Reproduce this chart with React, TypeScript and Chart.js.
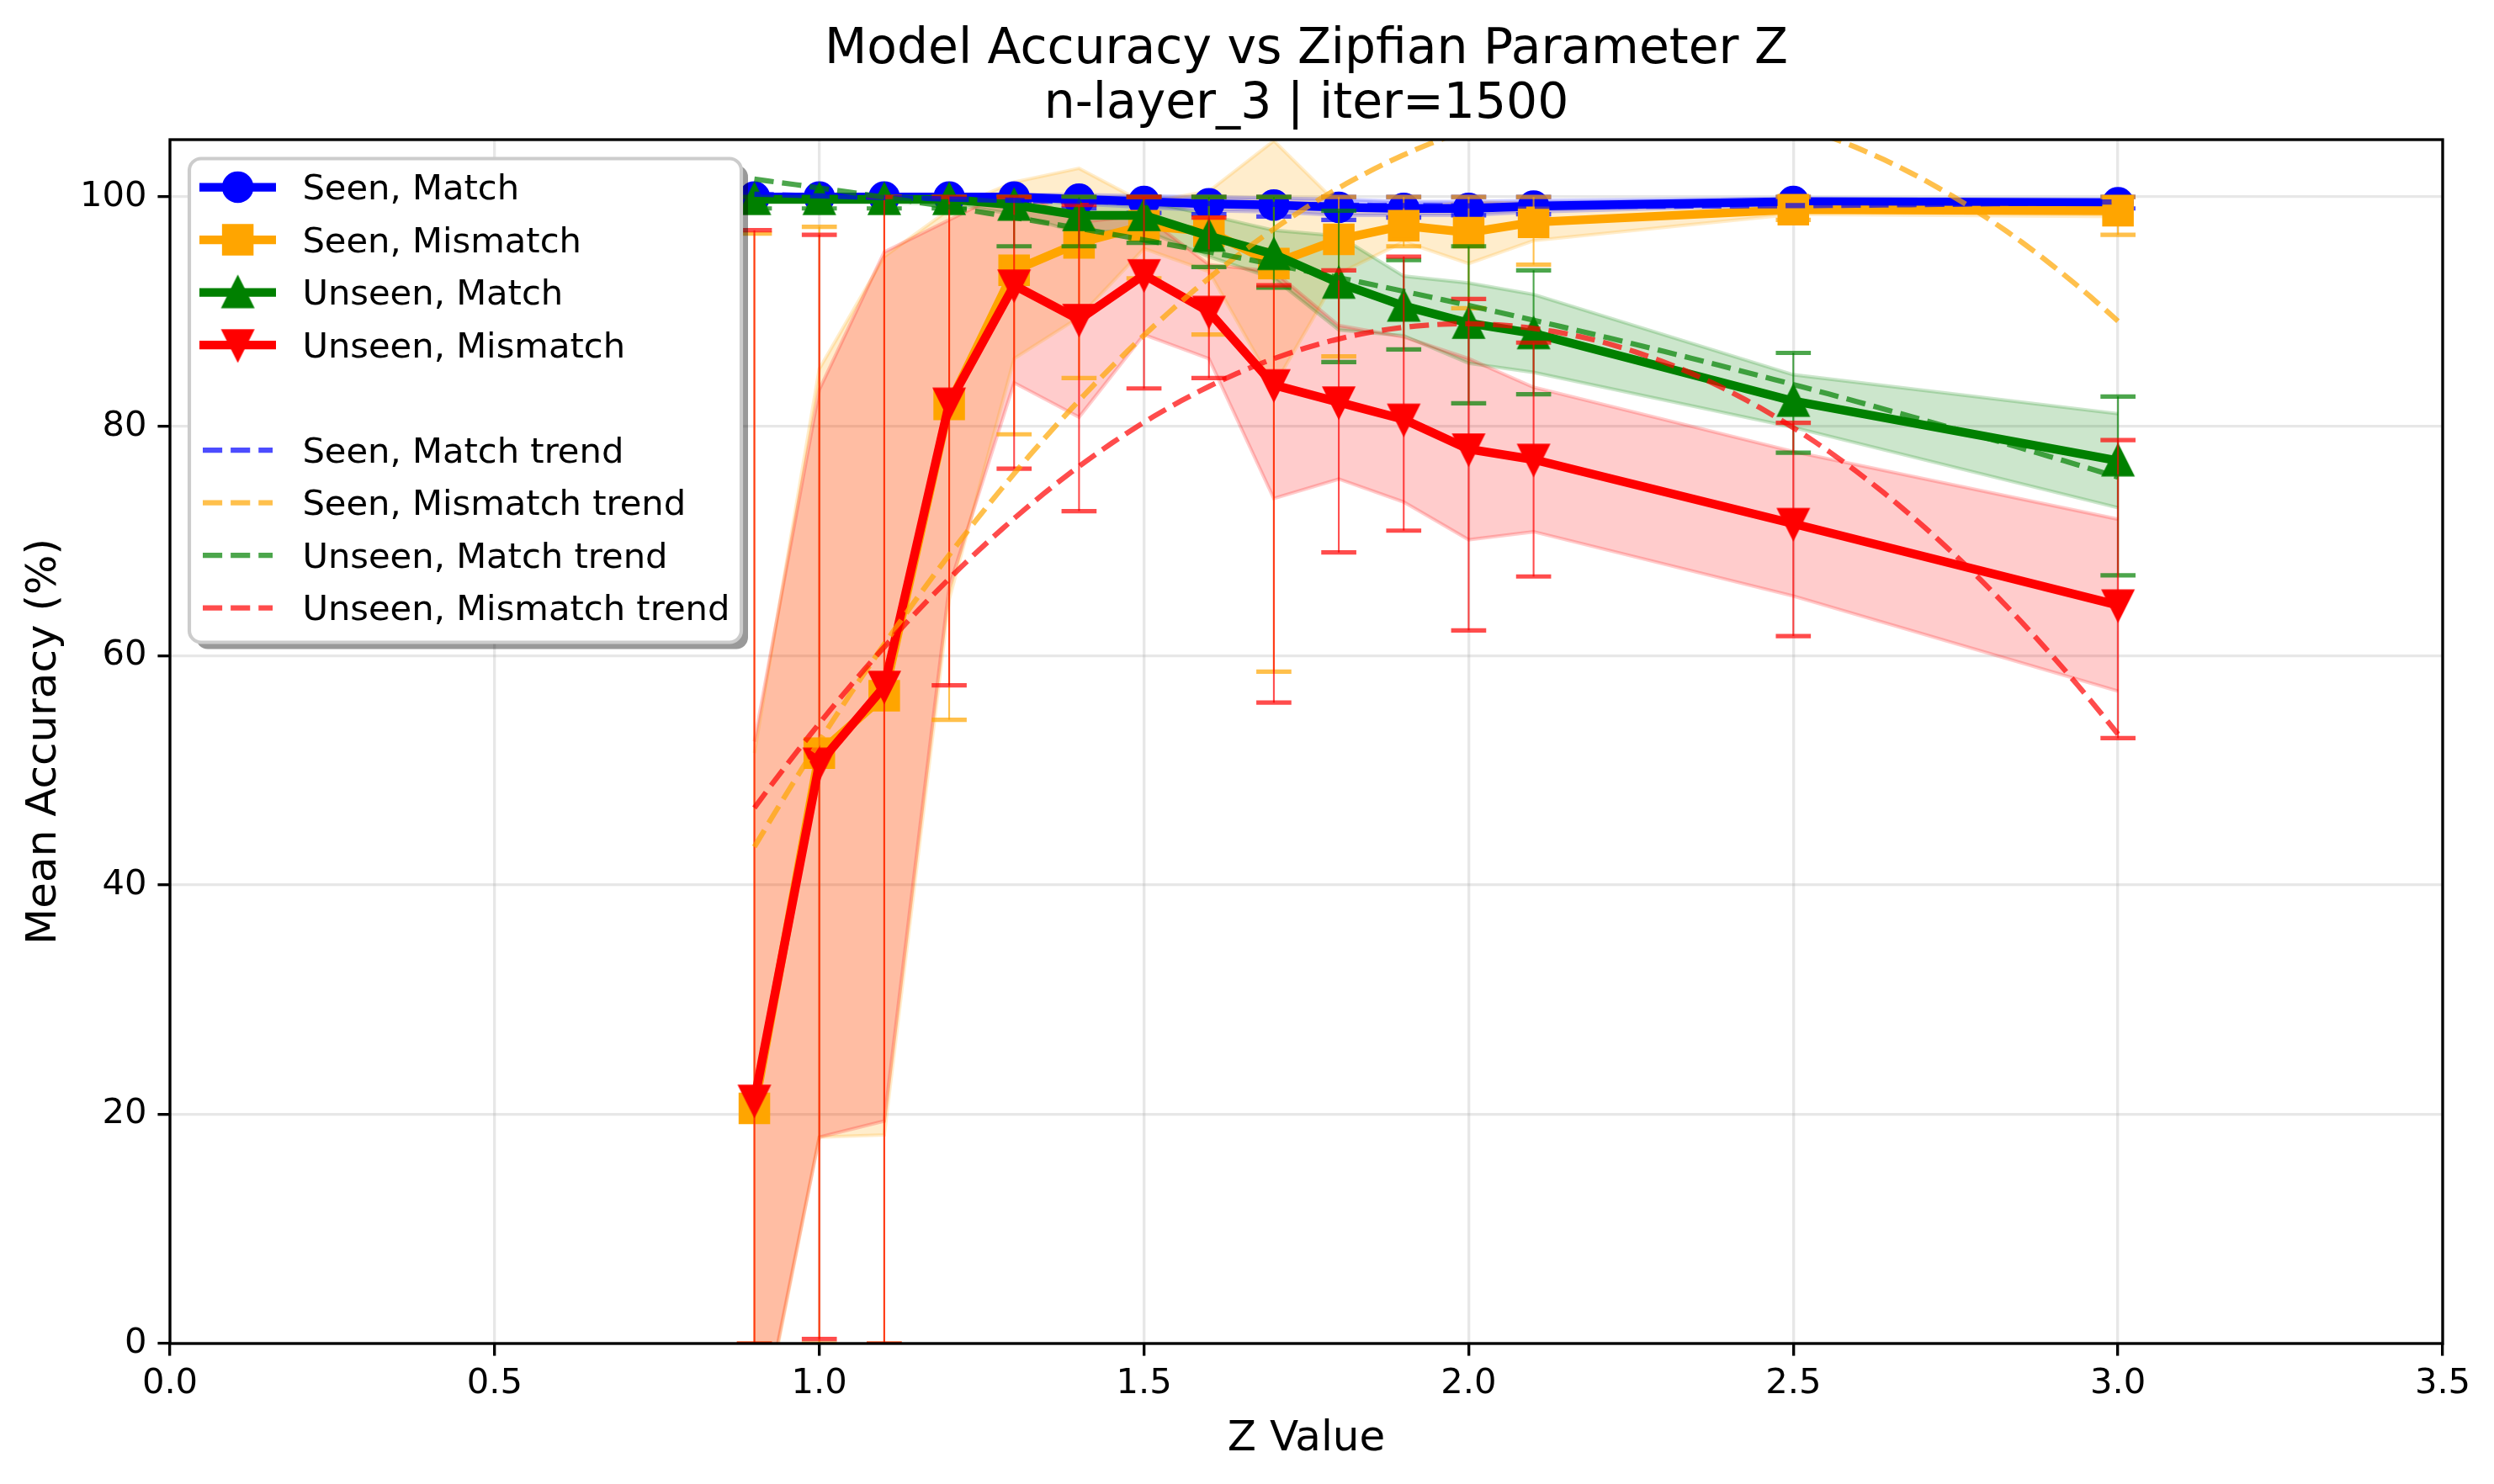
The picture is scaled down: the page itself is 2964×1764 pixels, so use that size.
import React, { useEffect, useRef } from 'react';
import { Chart, registerables } from 'chart.js';

Chart.register(...registerables);

// Zipf exponent values that were evaluated
const zValues = [0.9, 1.0, 1.1, 1.2, 1.3, 1.4, 1.5, 1.6, 1.7, 1.8, 1.9, 2.0, 2.1, 2.5, 3.0];

// Seen tokens, matching context
const seenMatchMean = [100, 100, 100, 100, 100, 99.8, 99.6, 99.4, 99.3, 99.1, 99.0, 99.0, 99.2, 99.6, 99.5];
const seenMatchStd = [0.1, 0.1, 0.1, 0.1, 0.2, 0.4, 0.5, 0.6, 0.6, 0.7, 0.6, 0.6, 0.5, 0.3, 0.3];
const seenMatchLow = [100, 100, 100, 99.8, 99.5, 99.0, 98.6, 98.5, 98.3, 98.0, 98.2, 98.4, 98.5, 99.0, 99.0];
const seenMatchHigh = [100, 100, 100, 100, 100, 100, 100, 100, 100, 100, 100, 100, 100, 100, 100];

// Seen tokens, mismatching context
const seenMismatchMean = [20.5, 51.5, 56.5, 81.9, 93.6, 96.0, 97.5, 97.0, 94.2, 96.3, 97.5, 96.9, 97.8, 98.9, 98.8];
const seenMismatchStd = [31.0, 33.5, 38.3, 17.0, 7.7, 6.5, 2.0, 3.5, 10.7, 3.0, 1.4, 2.7, 1.6, 0.4, 0.5];
const seenMismatchLow = [0, 0, 0, 54.4, 79.3, 84.2, 92.9, 88.0, 58.6, 86.1, 95.7, 90.3, 94.1, 98.0, 96.7];
const seenMismatchHigh = [96.8, 97.4, 100, 100, 100, 100, 100, 100, 100, 100, 100, 100, 100, 100, 100];

// Unseen tokens, matching context
const unseenMatchMean = [99.8, 99.8, 99.8, 99.8, 99.3, 98.4, 98.4, 96.6, 95.0, 92.5, 90.5, 89.0, 88.1, 82.2, 77.0];
const unseenMatchStd = [0.3, 0.3, 0.3, 0.4, 0.8, 1.5, 1.3, 1.8, 2.1, 4.1, 2.6, 3.5, 3.4, 2.3, 4.1];
const unseenMatchLow = [99.0, 99.0, 99.0, 99.0, 95.7, 95.7, 96.0, 93.9, 92.1, 85.6, 86.7, 82.0, 82.8, 77.7, 67.0];
const unseenMatchHigh = [100, 100, 100, 100, 100, 100, 100, 100, 100, 98.8, 94.5, 95.7, 93.6, 86.4, 82.6];

// Unseen tokens, mismatching context
const unseenMismatchMean = [21.2, 50.6, 57.3, 82.0, 92.3, 89.3, 93.2, 90.0, 83.6, 82.1, 80.6, 78.0, 77.1, 71.5, 64.4];
const unseenMismatchStd = [31.3, 32.6, 37.9, 16.0, 8.5, 8.5, 5.2, 4.1, 9.9, 6.7, 7.2, 7.9, 6.3, 6.3, 7.5];
const unseenMismatchLow = [0, 0.4, 0, 57.4, 76.3, 72.6, 83.3, 84.2, 55.9, 69.0, 70.9, 62.2, 66.9, 61.7, 52.8];
const unseenMismatchHigh = [97.1, 96.7, 100, 100, 100, 99.3, 100, 98.2, 92.3, 93.6, 94.8, 91.1, 87.3, 80.3, 78.8];

const xTickValues = [0, 0.5, 1.0, 1.5, 2.0, 2.5, 3.0, 3.5];
const yTickValues = [0, 20, 40, 60, 80, 100];

const titleLines = ['Model Accuracy vs Zipfian Parameter Z', 'n-layer_3 | iter=1500'];
const xAxisTitle = 'Z Value';
const yAxisTitle = 'Mean Accuracy (%)';

const W = 2964;
const H = 1764;
const PT = 300 / 72;
const AREA = { left: 202, top: 166, right: 2903, bottom: 1597 };
const FONT = "'DejaVu Sans', 'Liberation Sans', sans-serif";

type Series = {
  label: string;
  rgb: number[];
  marker: string;
  mean: number[];
  std: number[];
  low: number[];
  high: number[];
};

const series: Series[] = [
  { label: 'Seen, Match', rgb: [0, 0, 255], marker: 'circle', mean: seenMatchMean, std: seenMatchStd, low: seenMatchLow, high: seenMatchHigh },
  { label: 'Seen, Mismatch', rgb: [255, 165, 0], marker: 'square', mean: seenMismatchMean, std: seenMismatchStd, low: seenMismatchLow, high: seenMismatchHigh },
  { label: 'Unseen, Match', rgb: [0, 128, 0], marker: 'triUp', mean: unseenMatchMean, std: unseenMatchStd, low: unseenMatchLow, high: unseenMatchHigh },
  { label: 'Unseen, Mismatch', rgb: [255, 0, 0], marker: 'triDown', mean: unseenMismatchMean, std: unseenMismatchStd, low: unseenMismatchLow, high: unseenMismatchHigh },
];

const rgba = (rgb: number[], a: number) => `rgba(${rgb[0]},${rgb[1]},${rgb[2]},${a})`;

// Least-squares quadratic y = a + b x + c x^2
function quadFit(xs: number[], ys: number[]): number[] {
  const S = [0, 0, 0, 0, 0];
  const T = [0, 0, 0];
  xs.forEach((x, i) => {
    for (let k = 0; k < 5; k++) S[k] += Math.pow(x, k);
    for (let k = 0; k < 3; k++) T[k] += ys[i] * Math.pow(x, k);
  });
  const M = [
    [S[0], S[1], S[2], T[0]],
    [S[1], S[2], S[3], T[1]],
    [S[2], S[3], S[4], T[2]],
  ];
  for (let c = 0; c < 3; c++) {
    let p = c;
    for (let r = c + 1; r < 3; r++) if (Math.abs(M[r][c]) > Math.abs(M[p][c])) p = r;
    [M[c], M[p]] = [M[p], M[c]];
    for (let r = 0; r < 3; r++) {
      if (r === c) continue;
      const f = M[r][c] / M[c][c];
      for (let k = c; k < 4; k++) M[r][k] -= f * M[c][k];
    }
  }
  return [M[0][3] / M[0][0], M[1][3] / M[1][1], M[2][3] / M[2][2]];
}

const MARKER_HALF = (8 * PT) / 2;

function triangleMarker(color: string, up: boolean): HTMLCanvasElement {
  const s = 50;
  const c = document.createElement('canvas');
  c.width = s;
  c.height = s;
  const g = c.getContext('2d')!;
  const h = MARKER_HALF;
  const cx = s / 2;
  const cy = s / 2;
  g.beginPath();
  if (up) {
    g.moveTo(cx, cy - h);
    g.lineTo(cx - h, cy + h);
    g.lineTo(cx + h, cy + h);
  } else {
    g.moveTo(cx, cy + h);
    g.lineTo(cx - h, cy - h);
    g.lineTo(cx + h, cy - h);
  }
  g.closePath();
  g.fillStyle = color;
  g.fill();
  g.lineWidth = PT;
  g.lineJoin = 'miter';
  g.strokeStyle = color;
  g.stroke();
  return c;
}

function drawLegendMarker(ctx: CanvasRenderingContext2D, marker: string, x: number, y: number, color: string, img?: HTMLCanvasElement) {
  ctx.save();
  ctx.fillStyle = color;
  ctx.strokeStyle = color;
  ctx.lineWidth = PT;
  if (marker === 'circle') {
    ctx.beginPath();
    ctx.arc(x, y, MARKER_HALF, 0, Math.PI * 2);
    ctx.fill();
    ctx.stroke();
  } else if (marker === 'square') {
    ctx.beginPath();
    ctx.rect(x - MARKER_HALF, y - MARKER_HALF, 2 * MARKER_HALF, 2 * MARKER_HALF);
    ctx.fill();
    ctx.stroke();
  } else if (img) {
    ctx.drawImage(img, x - img.width / 2, y - img.height / 2);
  }
  ctx.restore();
}

function roundRectPath(ctx: CanvasRenderingContext2D, x: number, y: number, w: number, h: number, r: number) {
  ctx.beginPath();
  ctx.moveTo(x + r, y);
  ctx.lineTo(x + w - r, y);
  ctx.arcTo(x + w, y, x + w, y + r, r);
  ctx.lineTo(x + w, y + h - r);
  ctx.arcTo(x + w, y + h, x + w - r, y + h, r);
  ctx.lineTo(x + r, y + h);
  ctx.arcTo(x, y + h, x, y + h - r, r);
  ctx.lineTo(x, y + r);
  ctx.arcTo(x, y, x + r, y, r);
  ctx.closePath();
}

export default function App() {
  const canvasRef = useRef<HTMLCanvasElement>(null);

  useEffect(() => {
    document.body.style.margin = '0';
    const canvas = canvasRef.current;
    if (!canvas) return;

    const triImages: Record<string, HTMLCanvasElement> = {};
    series.forEach((s) => {
      if (s.marker === 'triUp') triImages[s.label] = triangleMarker(rgba(s.rgb, 1), true);
      if (s.marker === 'triDown') triImages[s.label] = triangleMarker(rgba(s.rgb, 1), false);
    });

    const pointStyleFor = (s: Series): any => {
      if (s.marker === 'circle') return 'circle';
      if (s.marker === 'square') return 'rect';
      return triImages[s.label];
    };
    const pointRadiusFor = (s: Series) => {
      if (s.marker === 'circle') return MARKER_HALF;
      if (s.marker === 'square') return (2 * MARKER_HALF) / Math.SQRT2;
      return MARKER_HALF;
    };

    const seq: any[] = [];

    // shaded ±std bands
    series.forEach((s) => {
      const upperIndex = seq.length;
      seq.push({
        label: s.label + ' upper',
        data: zValues.map((x, i) => ({ x, y: s.mean[i] + s.std[i] })),
        borderColor: rgba(s.rgb, 0.2),
        backgroundColor: rgba(s.rgb, 0.2),
        borderWidth: PT,
        pointRadius: 0,
        fill: upperIndex + 1,
        clip: 0,
      });
      seq.push({
        label: s.label + ' lower',
        data: zValues.map((x, i) => ({ x, y: s.mean[i] - s.std[i] })),
        borderColor: rgba(s.rgb, 0.2),
        borderWidth: PT,
        pointRadius: 0,
        fill: false,
        clip: 0,
      });
    });

    // error bars and mean lines
    series.forEach((s) => {
      const errData: any[] = [];
      zValues.forEach((x, i) => {
        errData.push({ x, y: s.low[i] }, { x, y: s.high[i] }, { x, y: null });
      });
      seq.push({
        label: s.label + ' error',
        data: errData,
        borderColor: rgba(s.rgb, 0.7),
        borderWidth: 0.5 * PT,
        spanGaps: false,
        pointStyle: 'line',
        pointRadius: 5 * PT,
        pointBorderWidth: 5.2,
        pointBorderColor: rgba(s.rgb, 0.7),
        fill: false,
        clip: 0,
      });
      seq.push({
        label: s.label,
        data: zValues.map((x, i) => ({ x, y: s.mean[i] })),
        borderColor: rgba(s.rgb, 1),
        backgroundColor: rgba(s.rgb, 1),
        borderWidth: 2.5 * PT,
        borderJoinStyle: 'round',
        borderCapStyle: 'square',
        pointStyle: pointStyleFor(s),
        pointRadius: pointRadiusFor(s),
        pointBackgroundColor: rgba(s.rgb, 1),
        pointBorderColor: rgba(s.rgb, 1),
        pointBorderWidth: PT,
        fill: false,
        clip: 0,
      });
    });

    // quadratic trend lines fitted to the means
    series.forEach((s) => {
      const [a, b, c] = quadFit(zValues, s.mean);
      const x0 = zValues[0];
      const x1 = zValues[zValues.length - 1];
      const n = 100;
      const data = Array.from({ length: n }, (_, k) => {
        const x = x0 + ((x1 - x0) * k) / (n - 1);
        return { x, y: a + b * x + c * x * x };
      });
      seq.push({
        label: s.label + ' trend',
        data,
        borderColor: rgba(s.rgb, 0.7),
        borderWidth: 1.5 * PT,
        borderDash: [3.7 * 1.5 * PT, 1.6 * 1.5 * PT],
        borderCapStyle: 'butt',
        pointRadius: 0,
        fill: false,
        clip: 0,
      });
    });

    const total = seq.length;
    const datasets = seq.map((d, i) => ({ ...d, order: total - i, tension: 0 }));

    const backgroundPlugin = {
      id: 'whiteBackground',
      beforeDraw(chart: any) {
        const ctx = chart.ctx;
        ctx.save();
        ctx.fillStyle = '#ffffff';
        ctx.fillRect(0, 0, chart.width, chart.height);
        ctx.restore();
      },
    };

    const framePlugin = {
      id: 'axesFrame',
      afterDatasetsDraw(chart: any) {
        const { ctx, chartArea } = chart;
        ctx.save();
        ctx.strokeStyle = '#000000';
        ctx.lineWidth = 0.8 * PT;
        ctx.strokeRect(chartArea.left, chartArea.top, chartArea.right - chartArea.left, chartArea.bottom - chartArea.top);
        ctx.restore();
      },
    };

    const titlePlugin = {
      id: 'twoLineTitle',
      afterDraw(chart: any) {
        const { ctx, chartArea } = chart;
        const cx = (chartArea.left + chartArea.right) / 2;
        ctx.save();
        ctx.fillStyle = '#000000';
        ctx.font = `${14 * PT}px ${FONT}`;
        ctx.textAlign = 'center';
        ctx.textBaseline = 'alphabetic';
        ctx.fillText(titleLines[0], cx, 75);
        ctx.fillText(titleLines[1], cx, 140);
        ctx.restore();
      },
    };

    const legendPlugin = {
      id: 'boxedLegend',
      afterDraw(chart: any) {
        const ctx: CanvasRenderingContext2D = chart.ctx;
        const bx = 225;
        const by = 188.5;
        const bw = 656;
        const bh = 575;
        const br = 14;
        const rowStep = 1.5 * 10 * PT;
        const firstRow = 222.6;
        const lineX0 = 237;
        const lineX1 = 328;
        const markX = 282.6;
        const textX = 359.4;
        ctx.save();
        roundRectPath(ctx, bx + 8, by + 8, bw, bh, br);
        ctx.fillStyle = 'rgba(0,0,0,0.4)';
        ctx.fill();
        roundRectPath(ctx, bx, by, bw, bh, br);
        ctx.fillStyle = '#ffffff';
        ctx.fill();
        ctx.lineWidth = PT;
        ctx.strokeStyle = '#cccccc';
        ctx.stroke();

        ctx.font = `${10 * PT}px ${FONT}`;
        ctx.textAlign = 'left';
        ctx.textBaseline = 'alphabetic';

        series.forEach((s, i) => {
          const y = firstRow + i * rowStep;
          ctx.beginPath();
          ctx.moveTo(lineX0, y);
          ctx.lineTo(lineX1, y);
          ctx.strokeStyle = rgba(s.rgb, 1);
          ctx.lineWidth = 2.5 * PT;
          ctx.lineCap = 'butt';
          ctx.stroke();
          drawLegendMarker(ctx, s.marker, markX, y, rgba(s.rgb, 1), triImages[s.label]);
          ctx.fillStyle = '#000000';
          ctx.fillText(s.label, textX, y + 14.4);
        });

        series.forEach((s, i) => {
          const y = firstRow + (5 + i) * rowStep;
          ctx.save();
          ctx.beginPath();
          ctx.setLineDash([3.7 * 1.5 * PT, 1.6 * 1.5 * PT]);
          ctx.moveTo(241, y);
          ctx.lineTo(324, y);
          ctx.strokeStyle = rgba(s.rgb, 0.7);
          ctx.lineWidth = 1.5 * PT;
          ctx.lineCap = 'butt';
          ctx.stroke();
          ctx.restore();
          ctx.fillStyle = '#000000';
          ctx.fillText(s.label + ' trend', textX, y + 14.4);
        });
        ctx.restore();
      },
    };

    const gridStyle = {
      color: 'rgba(176,176,176,0.3)',
      lineWidth: 0.8 * PT,
      tickColor: '#000000',
      tickWidth: 0.8 * PT,
      tickLength: 3.5 * PT,
      drawTicks: true,
    };

    const chart = new Chart(canvas, {
      type: 'line',
      data: { datasets },
      plugins: [backgroundPlugin, framePlugin, titlePlugin, legendPlugin],
      options: {
        animation: false,
        responsive: false,
        devicePixelRatio: 1,
        events: [],
        layout: { padding: { left: 0, top: AREA.top, right: W - AREA.right, bottom: 0 } },
        plugins: {
          legend: { display: false },
          title: { display: false },
          tooltip: { enabled: false },
          filler: { drawTime: 'beforeDatasetsDraw', propagate: false },
        },
        scales: {
          x: {
            type: 'linear',
            min: 0,
            max: 3.5,
            bounds: 'data',
            afterFit: (s: any) => {
              s.height = H - AREA.bottom;
            },
            afterBuildTicks: (s: any) => {
              s.ticks = xTickValues.map((v) => ({ value: v }));
            },
            ticks: {
              autoSkip: false,
              maxRotation: 0,
              padding: 9,
              color: '#000000',
              font: { size: 10 * PT, family: FONT },
              callback: (v: any) => Number(v).toFixed(1),
            },
            grid: gridStyle,
            border: { display: false },
            title: {
              display: true,
              text: xAxisTitle,
              color: '#000000',
              font: { size: 12 * PT, family: FONT },
              padding: { top: 0, bottom: 23 },
            },
          },
          y: {
            type: 'linear',
            min: 0,
            max: 105,
            bounds: 'data',
            afterFit: (s: any) => {
              s.width = AREA.left;
            },
            afterBuildTicks: (s: any) => {
              s.ticks = yTickValues.map((v) => ({ value: v }));
            },
            ticks: {
              autoSkip: false,
              padding: 13,
              color: '#000000',
              font: { size: 10 * PT, family: FONT },
              callback: (v: any) => String(v),
            },
            grid: gridStyle,
            border: { display: false },
            title: {
              display: true,
              text: yAxisTitle,
              color: '#000000',
              font: { size: 12 * PT, family: FONT },
              padding: { top: 23, bottom: 0 },
            },
          },
        },
      } as any,
    });

    return () => chart.destroy();
  }, []);

  return (
    <div style={{ position: 'fixed', left: 0, top: 0, width: W, height: H, background: '#ffffff' }}>
      <canvas ref={canvasRef} width={W} height={H} style={{ width: W, height: H, display: 'block' }} />
    </div>
  );
}
